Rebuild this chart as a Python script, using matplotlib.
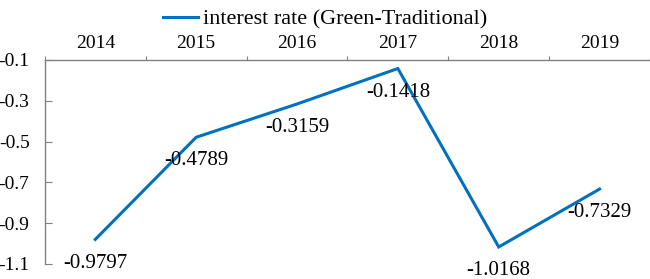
import matplotlib.pyplot as plt

plt.rcParams['font.family'] = ['Liberation Serif', 'DejaVu Serif']

years = ['2014', '2015', '2016', '2017', '2018', '2019']
rate_diff = [-0.9797, -0.4789, -0.3159, -0.1418, -1.0168, -0.7329]
y_ticks = [-1.1, -0.9, -0.7, -0.5, -0.3, -0.1]

fig = plt.figure(figsize=(6.5, 2.79), dpi=100)
ax = fig.add_axes([0.069, 0.054, 0.931, 0.731])

x = list(range(len(years)))
line, = ax.plot(x, rate_diff, color='#0070C0', lw=2.2, solid_joinstyle='miter',
                label='interest rate (Green-Traditional)')

for xi, v in zip(x, rate_diff):
    ax.annotate(f'{v:.4f}', (xi, v), xytext=(0, -17), textcoords='offset points',
                ha='center', va='center', fontsize=15)

ax.set_xlim(-0.5, len(years) - 0.5)
ax.set_ylim(-1.1, -0.1)
ax.set_yticks(y_ticks)
ax.set_yticklabels([f'{t:.1f}' for t in y_ticks], fontsize=14)

# category axis sits at the top, ticks between categories
ax.xaxis.tick_top()
ax.set_xticks([i - 0.5 for i in range(len(years) + 1)])
ax.set_xticklabels([])
ax.set_xticks(x, minor=True)
ax.set_xticklabels(years, minor=True, fontsize=14)
ax.tick_params(axis='x', which='minor', length=0, pad=6, top=True, bottom=False)
ax.tick_params(axis='x', which='major', direction='out', length=3, color='#808080')
ax.tick_params(axis='y', direction='in', length=5, color='#808080', pad=11)

for s in ['right', 'bottom']:
    ax.spines[s].set_visible(False)
for s in ['left', 'top']:
    ax.spines[s].set_color('#808080')
    ax.spines[s].set_linewidth(1.0)

fig.legend(handles=[line], loc='upper center', bbox_to_anchor=(0.5, 1.04),
           frameon=False, fontsize=16, handlelength=1.6, handletextpad=0.2)

fig.savefig('out.png', dpi=100)
